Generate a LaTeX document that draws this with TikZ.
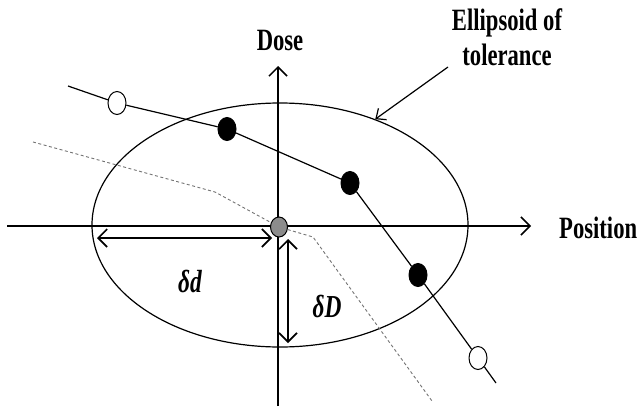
\documentclass[tikz,border=0pt]{standalone}
\usepackage{fontspec}
\setmainfont{Liberation Serif}[FakeStretch=0.73]
\usetikzlibrary{arrows.meta,shapes.geometric}
\definecolor{figgrey}{gray}{0.55}
\definecolor{figdash}{gray}{0.45}
\tikzset{
  fig/.style={x=1pt,y=-1pt},
  ax/.style={-{Straight Barb[length=9pt,width=18pt]},line width=1.5pt},
  lnb/.style={{Straight Barb[length=9pt,width=18pt]}-{Straight Barb[length=9pt,width=18pt]},line width=1.6pt},
  ln/.style={line width=1.2pt},
  dsh/.style={line width=0.9pt,figdash,dash pattern=on 3pt off 2.5pt},
  lbl/.style={font=\fontsize{31}{35}\selectfont\bfseries,inner sep=0pt},
  dot/.style={draw,ellipse,line width=1pt,minimum width=18pt,minimum height=23pt,inner sep=0pt,fill=black},
  hole/.style={dot,fill=white},
}
\begin{document}
\begin{tikzpicture}[fig,
  ptr/.style={-{Straight Barb[length=8pt,width=14pt]},line width=1.2pt}]
\useasboundingbox (0,0) rectangle (644,412);

\coordinate (xl) at (7,226);
\coordinate (xr) at (531,226);
\coordinate (yb) at (278,406);
\coordinate (yt) at (278,66);
\draw[ax] (xl) -- (xr);
\draw[ax] (yb) -- (yt);

\node[draw,ellipse,line width=1.2pt,minimum width=376pt,minimum height=244pt,inner sep=0pt] (tol) at (280,225) {};

\coordinate (s0) at (68,86);
\node[hole] (h1) at (117,103) {};
\node[dot] (f1) at (227,129) {};
\node[dot] (f2) at (350,183) {};
\node[dot] (f3) at (418,275) {};
\node[hole] (h2) at (478,358) {};
\coordinate (s1) at (496,383);
\node[dot,fill=figgrey,minimum width=17pt,minimum height=20pt] (o) at (279,227) {};

\coordinate (d0) at (33,142);
\coordinate (d1) at (215,192);
\coordinate (d2) at (313,237);
\coordinate (d3) at (432,401);

\draw[ln] (s0) -- (h1) -- (f1) -- (f2) -- (f3) -- (h2) -- (s1);
\draw[dsh] (d0) -- (d1) -- (o) -- (d2) -- (d3);

\coordinate (dl) at (97,238);
\coordinate (dr) at (272,238);
\coordinate (Dt) at (288,239);
\coordinate (Db) at (288,343);
\draw[lnb] (dl) -- (dr);
\draw[lnb] (Dt) -- (Db);

\node[lbl,anchor=base] (dose) at (280,50) {Dose};
\node[lbl,anchor=base west] (pos) at (559,238) {Position};
\node[lbl,anchor=north,align=center] (lab) at (507,8) {Ellipsoid of\\tolerance};
\node[lbl,anchor=base,font=\fontsize{32}{35}\selectfont\bfseries\itshape] (sd) at (190,292) {δd};
\node[lbl,anchor=base,font=\fontsize{32}{35}\selectfont\bfseries\itshape] (sD) at (327,317) {δD};

\coordinate (p0) at (448,67);
\draw[ptr] (p0) -- (tol.48);

\end{tikzpicture}
\end{document}
